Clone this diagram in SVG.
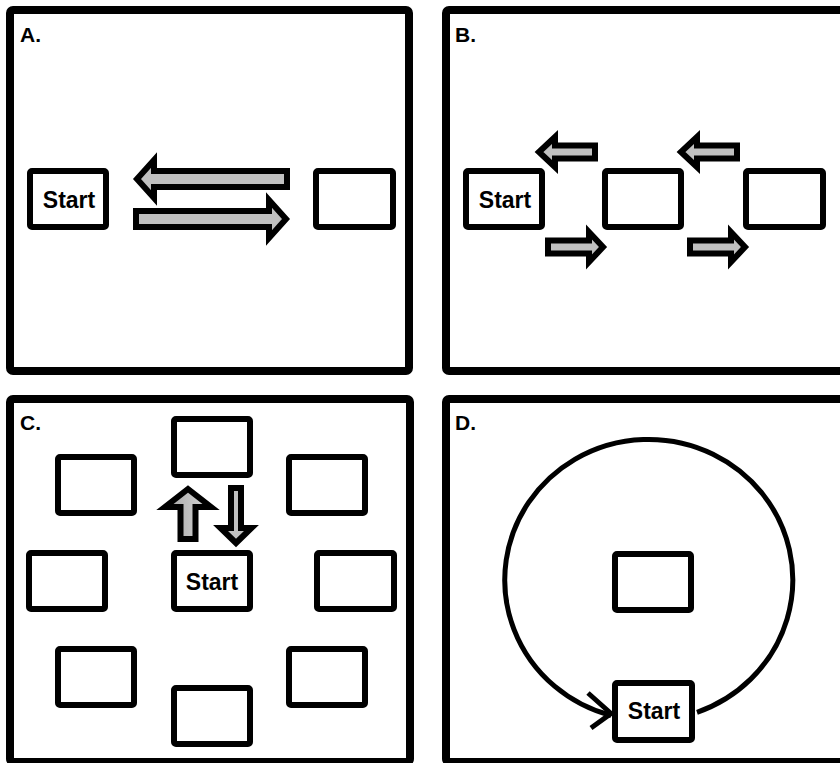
<svg xmlns="http://www.w3.org/2000/svg" width="840" height="763" viewBox="0 0 840 763">
<style>
.panel{fill:#fff;stroke:#000;stroke-width:8}
.box{fill:#fff;stroke:#000;stroke-width:6}
.lbl{font-family:"Liberation Sans",Arial,sans-serif;font-weight:bold;font-size:21px;fill:#000}
.st{font-family:"Liberation Sans",Arial,sans-serif;font-weight:bold;font-size:23px;fill:#000;text-anchor:middle}
.arr{fill:#c0c0c0;stroke:#000;stroke-width:6;stroke-linejoin:miter;stroke-miterlimit:10}
.arrg{fill:url(#gr);stroke:#000;stroke-width:6;stroke-linejoin:miter;stroke-miterlimit:10}
.loop{fill:none;stroke:#000;stroke-width:5}
</style>
<defs>
<linearGradient id="gr" x1="0" y1="0" x2="1" y2="0">
<stop offset="0" stop-color="#a4a4a4"/>
<stop offset="1" stop-color="#d8d8d8"/>
</linearGradient>
</defs>
<rect width="840" height="763" fill="#fff"/>
<g id="panels">
<rect class="panel" x="10" y="10" width="399" height="361" rx="3"/>
<rect class="panel" x="446" y="10" width="420" height="361" rx="3"/>
<rect class="panel" x="10" y="399" width="400" height="363" rx="3"/>
<rect class="panel" x="446" y="399" width="420" height="363" rx="3"/>
<text class="lbl" x="20" y="42">A.</text>
<text class="lbl" x="455" y="42">B.</text>
<text class="lbl" x="20" y="430">C.</text>
<text class="lbl" x="455" y="430">D.</text>
</g>
<g id="A-start"><rect class="box" x="30" y="171" width="76" height="56" rx="2"/><text class="st" x="69" y="208">Start</text></g>
<g id="A-target"><rect class="box" x="316" y="171" width="77" height="56" rx="2"/></g>
<g id="B-start"><rect class="box" x="466" y="171" width="76" height="56" rx="2"/><text class="st" x="505" y="208">Start</text></g>
<g id="B-mid"><rect class="box" x="605" y="171" width="76" height="56" rx="2"/></g>
<g id="B-right"><rect class="box" x="746" y="171" width="77" height="56" rx="2"/></g>
<g id="C-top"><rect class="box" x="174" y="419" width="76" height="56" rx="2"/></g>
<g id="C-upleft"><rect class="box" x="58" y="457" width="76" height="56" rx="2"/></g>
<g id="C-upright"><rect class="box" x="289" y="457" width="76" height="56" rx="2"/></g>
<g id="C-left"><rect class="box" x="29" y="553" width="76" height="56" rx="2"/></g>
<g id="C-start"><rect class="box" x="174" y="553" width="76" height="56" rx="2"/><text class="st" x="212" y="590">Start</text></g>
<g id="C-right"><rect class="box" x="317" y="553" width="77" height="56" rx="2"/></g>
<g id="C-lowleft"><rect class="box" x="58" y="649" width="76" height="56" rx="2"/></g>
<g id="C-lowright"><rect class="box" x="289" y="649" width="76" height="56" rx="2"/></g>
<g id="C-bottom"><rect class="box" x="174" y="688" width="76" height="56" rx="2"/></g>
<g id="D-center"><rect class="box" x="615" y="554" width="76" height="56" rx="2"/></g>
<g id="D-start"><rect class="box" x="615" y="683" width="77" height="57" rx="2"/><text class="st" x="654" y="719">Start</text></g>
<g id="connectors">
<polygon class="arr" points="137,179 154,160 154,171 287,171 287,187 154,187 154,198"/>
<polygon class="arr" points="136,211 269,211 269,200 286,219 269,238 269,227 136,227"/>
<polygon class="arr" points="539,152 555,137 555,145.5 595,145.5 595,158.5 555,158.5 555,167"/>
<polygon class="arr" points="681,152 697,137 697,145.5 737,145.5 737,158.5 697,158.5 697,167"/>
<polygon class="arr" points="548,240.5 589,240.5 589,232 603,247 589,262 589,253.5 548,253.5"/>
<polygon class="arr" points="690,240.5 731,240.5 731,232 745,247 731,262 731,253.5 690,253.5"/>
<polygon class="arrg" points="188,489 211,507 195.5,507 195.5,539 180.5,539 180.5,507 165,507"/>
<polygon class="arr" points="231,488 241,488 241,528 251.5,528 236,543 220.5,528 231,528"/>
<path class="loop" d="M 697 712.3 A 144 140.5 0 1 0 611 715.5"/>
<polyline class="loop" points="588,693 611,713.5 591,728" stroke-width="6"/>
</g>
</svg>
